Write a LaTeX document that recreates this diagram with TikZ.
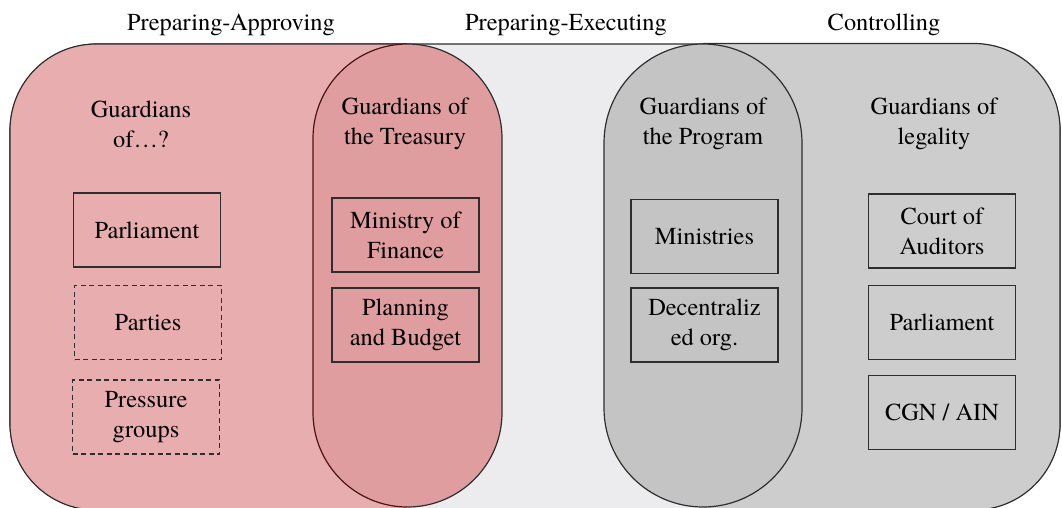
\documentclass[tikz,border=0pt]{standalone}
\usepackage{fontspec}
\newfontfamily\timesfont{texgyretermes}[Extension=.otf, UprightFont=*-regular]
\begin{document}
\begin{tikzpicture}[x=1pt,y=-1pt,
  every node/.style={font=\timesfont\fontsize{24.4}{30}\selectfont, text=black, inner sep=0pt, align=center},
  outline/.style={draw=black!82, line width=1.2pt},
  itembox/.style={draw=black!82, line width=1.2pt, minimum width=147pt, minimum height=74pt},
  dashbox/.style={itembox, dash pattern=on 5pt off 3.5pt},
  grouptitle/.style={anchor=center}
]
\definecolor{pinkbg}{HTML}{E8ADAE}
\definecolor{treas}{HTML}{DF9D9F}
\definecolor{lightbg}{HTML}{ECECEE}
\definecolor{graybg}{HTML}{CDCDCD}
\definecolor{prog}{HTML}{C4C4C4}
\definecolor{darkred}{HTML}{4A1414}
\useasboundingbox (0,0) rectangle (1062,508);
% background band
\path[fill=lightbg, outline, rounded corners=88pt] (10,44) rectangle (1060,510);
% left pink
\begin{scope}
\clip (0,0) rectangle (407.5,520);
\path[fill=pinkbg, outline, rounded corners=86pt] (10,44) rectangle (900,510);
\end{scope}
% right gray
\begin{scope}
\clip (703,0) rectangle (1070,520);
\path[fill=graybg, outline, rounded corners=86pt] (200,43.5) rectangle (1060,510);
\end{scope}
% treasury stadium
\fill[treas, rounded corners=94.5pt] (313,44) rectangle (502,507);
\draw[darkred, line width=1.2pt] (407.5,44) arc[start angle=270, end angle=180, radius=94.5] -- (313,412.5) arc[start angle=180, end angle=90, radius=94.5];
\draw[black!82, line width=1.2pt] (407.5,44) arc[start angle=270, end angle=360, radius=94.5] -- (502,412.5) arc[start angle=0, end angle=90, radius=94.5];
% program stadium
\path[fill=prog, outline, rounded corners=99pt] (604,44) rectangle (802,507);
% phase titles
\node[anchor=base] (t1) at (231,31) {Preparing-Approving};
\node[anchor=base] (t2) at (566,31) {Preparing-Executing};
\node[anchor=base] (t3) at (884,31) {Controlling};
% group titles
\node[grouptitle] (g1) at (141,124) {Guardians\\of\ldots?};
\node[grouptitle] (g2) at (405,124) {Guardians of\\the Treasury};
\node[grouptitle] (g3) at (703,124) {Guardians of\\the Program};
\node[grouptitle] (g4) at (934,124) {Guardians of\\legality};
% boxes
\node[itembox] (parl1) at (147,230) {Parliament};
\node[dashbox] (parties) at (148,322.5) {Parties};
\node[dashbox] (press) at (146,417) {Pressure\\groups};
\node[itembox] (mof) at (405.5,235) {Ministry of\\Finance};
\node[itembox] (pab) at (405.5,325) {Planning\\and Budget};
\node[itembox] (mins) at (704.5,236.5) {Ministries};
\node[itembox] (dec) at (704.5,325) {Decentraliz\\ed org.};
\node[itembox] (coa) at (942,231) {Court of\\Auditors};
\node[itembox] (parl2) at (942,322.5) {Parliament};
\node[itembox] (cgn) at (942,412.5) {CGN / AIN};
\end{tikzpicture}
\end{document}
